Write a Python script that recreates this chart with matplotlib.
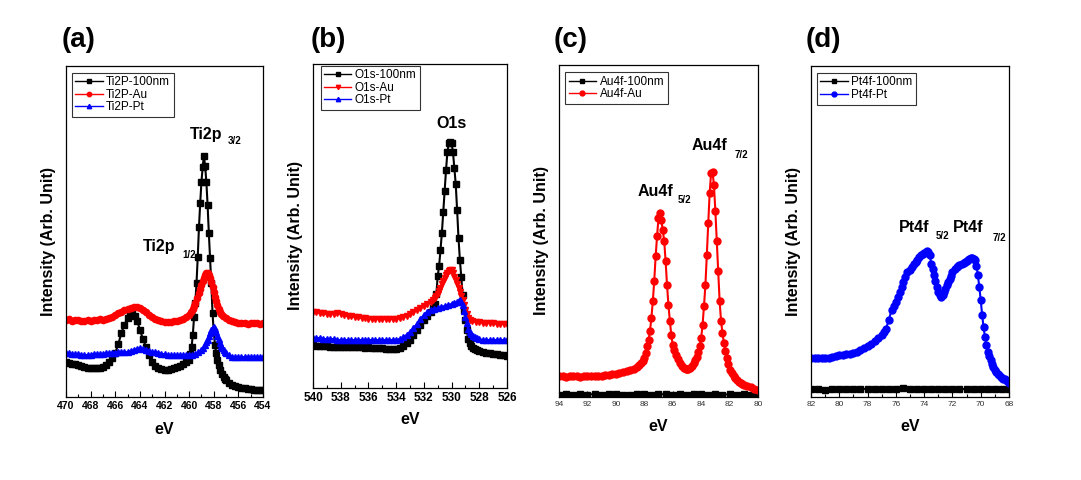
import matplotlib
matplotlib.use('Agg')
import matplotlib.pyplot as plt
from matplotlib.ticker import MultipleLocator

plt.rcParams['font.family'] = ['Liberation Sans', 'DejaVu Sans']

# (eV, intensity) pairs, intensity in arbitrary units

# (a) Ti2p
ti_100nm = [(470, 35), (469.75, 34), (469.5, 33), (469.25, 33), (469, 32), (468.75, 31), (468.5, 30),
            (468.25, 29), (468, 29), (467.75, 29), (467.5, 29), (467.25, 29), (467, 30), (466.75, 32),
            (466.5, 35), (466.25, 39), (466, 44), (465.75, 53), (465.5, 64), (465.25, 72), (465, 79),
            (464.8, 83), (464.6, 84), (464.4, 81), (464.2, 76), (464, 67), (463.75, 58), (463.5, 50),
            (463.25, 42), (463, 35), (462.75, 31), (462.5, 29), (462.25, 28), (462, 27), (461.75, 27),
            (461.5, 28), (461.25, 29), (461, 30), (460.75, 31), (460.5, 33), (460.25, 35), (460, 37),
            (459.9, 43), (459.8, 50), (459.7, 62), (459.6, 80), (459.5, 94), (459.4, 114), (459.3, 140),
            (459.2, 170), (459.1, 194), (459.0, 215), (458.9, 230), (458.8, 241), (458.7, 231),
            (458.6, 215), (458.5, 192), (458.4, 164), (458.3, 139), (458.2, 114), (458.1, 84),
            (458.0, 65), (457.9, 52), (457.8, 44), (457.7, 37), (457.6, 32), (457.5, 27), (457.35, 23),
            (457.2, 20), (457.1, 18), (457, 17), (456.75, 14), (456.5, 12), (456.25, 11), (456, 10),
            (455.75, 9.5), (455.5, 9), (455.25, 8.5), (455, 8), (454.75, 7.5), (454.5, 7), (454.25, 7),
            (454, 7)]
ti_au = [(470, 77), (469.75, 78), (469.5, 76), (469.25, 77), (469, 77), (468.75, 76), (468.5, 76),
         (468.25, 77), (468, 76), (467.75, 77), (467.5, 77), (467.25, 78), (467, 77), (466.75, 78),
         (466.5, 79), (466.25, 80), (466, 82), (465.75, 84), (465.5, 85), (465.25, 87), (465, 88),
         (464.75, 89), (464.5, 90), (464.25, 90), (464, 89), (463.75, 87), (463.5, 85), (463.25, 82),
         (463, 80), (462.75, 78), (462.5, 77), (462.25, 76), (462, 75), (461.75, 75), (461.5, 75),
         (461.25, 76), (461, 76), (460.75, 77), (460.5, 78), (460.25, 80), (460, 82), (459.85, 85),
         (459.7, 88), (459.6, 91), (459.5, 94), (459.35, 99), (459.2, 104), (459.1, 108), (459, 112),
         (458.9, 116), (458.8, 119), (458.7, 122), (458.6, 124), (458.5, 124), (458.4, 122),
         (458.3, 119), (458.2, 115), (458.1, 110), (458, 105), (457.9, 100), (457.8, 96), (457.7, 92),
         (457.6, 88), (457.5, 85), (457.4, 83), (457.25, 81), (457, 79), (456.75, 77), (456.5, 76),
         (456.25, 75), (456, 74), (455.75, 74), (455.5, 74), (455.25, 73), (455, 74), (454.75, 74),
         (454.5, 74), (454.25, 73), (454, 74)]
ti_pt = [(470, 44), (469.75, 44), (469.5, 43), (469.25, 43), (469, 43), (468.75, 42), (468.5, 42),
         (468.25, 42), (468, 42), (467.75, 43), (467.5, 43), (467.25, 43), (467, 43), (466.75, 44),
         (466.5, 44), (466.25, 44), (466, 44), (465.75, 45), (465.5, 45), (465.25, 45), (465, 45),
         (464.75, 46), (464.5, 47), (464.25, 48), (464, 49), (463.75, 48), (463.5, 47), (463.25, 46),
         (463, 45), (462.75, 45), (462.5, 44), (462.25, 43), (462, 43), (461.75, 42), (461.5, 42),
         (461.25, 42), (461, 42), (460.75, 42), (460.5, 42), (460.25, 42), (460, 42), (459.75, 42),
         (459.5, 43), (459.25, 45), (459, 47), (458.85, 49), (458.7, 52), (458.6, 55), (458.5, 57),
         (458.4, 61), (458.3, 64), (458.2, 67), (458.1, 69), (458.0, 70), (457.9, 68), (457.8, 65),
         (457.7, 61), (457.6, 58), (457.5, 54), (457.4, 51), (457.3, 49), (457.2, 47), (457.1, 45),
         (457, 44), (456.75, 42), (456.5, 40), (456.25, 40), (456, 40), (455.75, 40), (455.5, 40),
         (455.25, 40), (455, 40), (454.75, 40), (454.5, 40), (454.25, 40), (454, 40)]

# (b) O1s
o_100nm = [(540, 43), (539.75, 42), (539.5, 42), (539.25, 42), (539, 42), (538.75, 41), (538.5, 41),
           (538.25, 41), (538, 41), (537.75, 41), (537.5, 41), (537.25, 41), (537, 41), (536.75, 41),
           (536.5, 41), (536.25, 40), (536, 41), (535.75, 40), (535.5, 40), (535.25, 40), (535, 40),
           (534.75, 39), (534.5, 39), (534.25, 39), (534, 39), (533.75, 40), (533.5, 42), (533.25, 45),
           (533, 48), (532.75, 53), (532.5, 58), (532.25, 63), (532, 68), (531.75, 72), (531.5, 76),
           (531.35, 80), (531.2, 84), (531.1, 94), (531.0, 112), (530.9, 122), (530.8, 138),
           (530.7, 155), (530.6, 176), (530.5, 197), (530.4, 218), (530.3, 236), (530.2, 245),
           (530.1, 246), (530.0, 245), (529.9, 236), (529.8, 220), (529.7, 204), (529.6, 178),
           (529.5, 150), (529.4, 128), (529.3, 111), (529.2, 93), (529.1, 78), (529.0, 68), (528.9, 58),
           (528.8, 49), (528.7, 45), (528.6, 42), (528.45, 40), (528.3, 39), (528.15, 38), (528, 37),
           (527.75, 36), (527.5, 35), (527.25, 35), (527, 34), (526.75, 34), (526.5, 33), (526.25, 33),
           (526, 32)]
o_au = [(540, 76), (539.75, 76), (539.5, 75), (539.25, 75), (539, 74), (538.75, 74), (538.5, 74),
        (538.25, 75), (538, 74), (537.75, 73), (537.5, 72), (537.25, 72), (537, 71), (536.75, 71),
        (536.5, 70), (536.25, 70), (536, 69), (535.75, 69), (535.5, 69), (535.25, 69), (535, 69),
        (534.75, 69), (534.5, 69), (534.25, 69), (534, 69), (533.75, 70), (533.5, 71), (533.25, 72),
        (533, 74), (532.75, 76), (532.5, 78), (532.25, 80), (532, 82), (531.75, 84), (531.5, 86),
        (531.35, 88), (531.2, 90), (531.1, 92), (531, 94), (530.9, 97), (530.8, 100), (530.7, 104),
        (530.6, 107), (530.5, 110), (530.4, 113), (530.3, 115), (530.2, 117), (530.1, 118),
        (530.0, 118), (529.9, 115), (529.8, 111), (529.7, 108), (529.6, 104), (529.5, 100),
        (529.4, 96), (529.3, 92), (529.2, 88), (529.1, 83), (529.0, 78), (528.9, 74), (528.8, 70),
        (528.65, 68), (528.5, 67), (528.25, 66), (528, 66), (527.75, 65), (527.5, 65), (527.25, 65),
        (527, 65), (526.75, 64), (526.5, 64), (526.25, 64), (526, 64)]
o_pt = [(540, 50), (539.75, 50), (539.5, 50), (539.25, 49), (539, 49), (538.75, 49), (538.5, 49),
        (538.25, 48), (538, 48), (537.75, 48), (537.5, 48), (537.25, 48), (537, 48), (536.75, 48),
        (536.5, 48), (536.25, 48), (536, 48), (535.75, 48), (535.5, 48), (535.25, 48), (535, 48),
        (534.75, 48), (534.5, 48), (534.25, 48), (534, 48), (533.75, 49), (533.5, 51), (533.25, 53),
        (533, 56), (532.75, 60), (532.5, 64), (532.25, 69), (532, 73), (531.75, 76), (531.5, 78),
        (531.25, 79), (531, 80), (530.75, 81), (530.5, 82), (530.25, 83), (530, 84), (529.8, 85),
        (529.6, 86), (529.5, 87), (529.4, 88), (529.3, 86), (529.2, 83), (529.1, 77), (529.0, 71),
        (528.9, 65), (528.8, 59), (528.7, 56), (528.6, 54), (528.45, 52), (528.3, 51), (528.15, 50),
        (528, 49), (527.75, 48), (527.5, 48), (527.25, 48), (527, 48), (526.75, 48), (526.5, 48),
        (526.25, 48), (526, 48)]

# (c) Au4f
au_100nm = [(94, 2.5), (93.5, 2.8), (93, 2.4), (92.5, 2.6), (92, 2.5), (91.5, 2.9), (91, 2.4),
            (90.5, 2.6), (90, 2.7), (89.5, 2.5), (89, 2.4), (88.5, 2.8), (88, 2.6), (87.5, 2.5),
            (87, 2.9), (86.5, 2.6), (86, 2.4), (85.5, 2.7), (85, 2.5), (84.5, 2.6), (84, 2.8),
            (83.5, 2.4), (83, 2.7), (82.5, 2.5), (82, 2.6), (81.5, 2.4), (81, 2.7), (80.5, 2.5),
            (80, 2.6)]
au_au = [(94, 20.7), (93.75, 20.6), (93.5, 20.5), (93.25, 20.6), (93, 20.7), (92.75, 20.6),
         (92.5, 20.5), (92.25, 20.6), (92, 20.7), (91.75, 20.9), (91.5, 21), (91.25, 21.1), (91, 21.3),
         (90.75, 21.6), (90.5, 22), (90.25, 22.6), (90, 23.3), (89.75, 24), (89.5, 24.7),
         (89.25, 25.6), (89, 26.7), (88.75, 28.2), (88.5, 30), (88.35, 32), (88.2, 34), (88.1, 36),
         (88.0, 39), (87.9, 44), (87.8, 50.7), (87.7, 57), (87.6, 66), (87.5, 79), (87.4, 96),
         (87.3, 116), (87.2, 141), (87.1, 161), (87.0, 179), (86.9, 184), (86.8, 177), (86.7, 167),
         (86.6, 156), (86.5, 136), (86.4, 112), (86.3, 92), (86.2, 76), (86.1, 62), (86.0, 52),
         (85.9, 47), (85.8, 42), (85.65, 38), (85.5, 34), (85.35, 31), (85.2, 29), (85.1, 28.5),
         (85.0, 28), (84.9, 28.5), (84.8, 29), (84.65, 31), (84.5, 34), (84.4, 37), (84.3, 40),
         (84.2, 45), (84.1, 51), (84.0, 59), (83.9, 72), (83.8, 91), (83.7, 112), (83.6, 142),
         (83.5, 174), (83.4, 204), (83.3, 224), (83.2, 225), (83.1, 212), (83.0, 186), (82.9, 156),
         (82.8, 126), (82.7, 96), (82.6, 76), (82.5, 64), (82.4, 54), (82.3, 46), (82.2, 39),
         (82.1, 33), (82.0, 27), (81.85, 24), (81.7, 21), (81.6, 19), (81.5, 17), (81.35, 15.5),
         (81.2, 14), (81.1, 13), (81, 12.3), (80.75, 11), (80.5, 9.7), (80.25, 8.5), (80, 7.3)]

# (d) Pt4f
pt_100nm = [(82, 8.5), (81.5, 8), (81, 7.5), (80.5, 8.2), (80, 7.8), (79.5, 8), (79, 7.6),
            (78.5, 8.3), (78, 7.9), (77.5, 8), (77, 7.7), (76.5, 8.4), (76, 8), (75.5, 8.9), (75, 7.8),
            (74.5, 8.1), (74, 7.6), (73.5, 8), (73, 8.3), (72.5, 7.7), (72, 8), (71.5, 8.2), (71, 7.8),
            (70.5, 8.4), (70, 7.9), (69.5, 8), (69, 8.1), (68.5, 7.8), (68, 8)]
pt_pt = [(82, 39), (81.75, 39.5), (81.5, 39.5), (81.25, 39), (81, 39), (80.75, 39.5), (80.5, 40),
         (80.25, 41), (80, 41.7), (79.75, 42), (79.5, 42.7), (79.25, 43.3), (79, 44), (78.75, 45.5),
         (78.5, 47), (78.25, 49), (78, 51), (77.75, 53.5), (77.5, 56), (77.25, 59), (77, 62),
         (76.85, 65), (76.7, 68), (76.5, 77), (76.3, 87), (76.15, 91), (76.0, 95), (75.85, 100),
         (75.7, 105), (75.6, 110), (75.5, 115), (75.35, 120), (75.2, 125), (75.0, 127), (74.85, 130),
         (74.7, 133), (74.6, 135), (74.5, 137), (74.35, 140), (74.2, 142), (74.1, 143), (74.0, 144),
         (73.9, 145), (73.8, 146), (73.7, 145), (73.6, 142), (73.5, 133), (73.4, 128), (73.3, 122),
         (73.2, 116), (73.1, 110), (73.0, 105), (72.9, 102), (72.8, 100), (72.7, 102), (72.6, 105),
         (72.5, 108), (72.4, 112), (72.3, 115), (72.2, 118), (72.1, 121), (72.0, 125), (71.85, 128),
         (71.7, 130), (71.6, 131), (71.5, 132), (71.35, 133), (71.2, 134), (71.1, 135), (71.0, 136),
         (70.9, 137), (70.8, 138), (70.7, 139), (70.6, 139), (70.5, 138), (70.4, 137), (70.3, 131),
         (70.2, 122), (70.1, 110), (70.0, 97), (69.9, 82), (69.8, 70), (69.7, 60), (69.6, 52),
         (69.5, 45), (69.4, 41), (69.3, 37), (69.2, 33), (69.1, 30), (69.0, 27.5), (68.9, 25),
         (68.8, 23.5), (68.7, 22), (68.6, 20.5), (68.5, 19), (68.4, 18.5), (68.3, 18), (68.15, 16),
         (68.0, 14)]

W, H = 1081, 480
fig = plt.figure(figsize=(W / 100, H / 100), dpi=100)


def px_axes(l, t, r, b):
    return fig.add_axes([l / W, 1 - b / H, (r - l) / W, (b - t) / H])


panels = [
    dict(box=(66, 66, 263, 397), xlim=(470, 454), ylim=(0, 331), tag='(a)',
         series=[(ti_100nm, 'black', 's', 'Ti2P-100nm'),
                 (ti_au, 'red', 'o', 'Ti2P-Au'),
                 (ti_pt, 'blue', '^', 'Ti2P-Pt')],
         ms=4.5, tick_fs=7.5, tick_bold=True, leg=(0.03, 0.98)),
    dict(box=(313, 64, 507, 388), xlim=(540, 526), ylim=(0, 324), tag='(b)',
         series=[(o_100nm, 'black', 's', 'O1s-100nm'),
                 (o_au, 'red', 'v', 'O1s-Au'),
                 (o_pt, 'blue', '^', 'O1s-Pt')],
         ms=4.5, tick_fs=8.5, tick_bold=True, leg=(0.04, 0.995)),
    dict(box=(559, 65, 758, 397), xlim=(94, 80), ylim=(0, 332), tag='(c)',
         series=[(au_100nm, 'black', 's', 'Au4f-100nm'),
                 (au_au, 'red', 'o', 'Au4f-Au')],
         ms=5, tick_fs=6, tick_bold=False, leg=(0.032, 0.978)),
    dict(box=(811, 66, 1009, 397), xlim=(82, 68), ylim=(0, 331), tag='(d)',
         series=[(pt_100nm, 'black', 's', 'Pt4f-100nm'),
                 (pt_pt, 'blue', 'o', 'Pt4f-Pt')],
         ms=5, tick_fs=6, tick_bold=False, leg=(0.03, 0.979)),
]

axes = []
for p in panels:
    ax = px_axes(*p['box'])
    for pts, c, m, lab in p['series']:
        x, y = zip(*pts)
        ax.plot(x, y, color=c, marker=m, ms=p['ms'], lw=1.5, label=lab)
    ax.set_xlim(*p['xlim'])
    ax.set_ylim(*p['ylim'])
    ax.set_yticks([])
    ax.xaxis.set_major_locator(MultipleLocator(2))
    ax.xaxis.set_minor_locator(MultipleLocator(1))
    ax.tick_params(axis='x', which='major', direction='in', length=4, width=0.8,
                   labelsize=p['tick_fs'], pad=3)
    ax.tick_params(axis='x', which='minor', direction='in', length=2, width=0.8)
    for lbl in ax.get_xticklabels():
        lbl.set_fontweight('bold' if p['tick_bold'] else 'normal')
        if not p['tick_bold']:
            lbl.set_color('#333333')
    for s in ax.spines.values():
        s.set_linewidth(0.9)
    ax.set_xlabel('eV', fontsize=11.5, fontweight='bold')
    ax.set_ylabel('Intensity (Arb. Unit)', fontsize=11.5, fontweight='bold')
    ax.yaxis.set_label_coords(-0.05, 0.47)
    ax.xaxis.set_label_coords(0.5, -0.075 if p['tick_bold'] else -0.065)
    leg = ax.legend(loc='upper left', bbox_to_anchor=p['leg'], borderaxespad=0,
                    fontsize=8.5, frameon=True, fancybox=False, edgecolor='black',
                    handlelength=2.3, handletextpad=0.3, labelspacing=0.05,
                    borderpad=0.3, markerscale=0.7)
    leg.get_frame().set_linewidth(0.8)
    for h in leg.get_lines():
        h.set_linewidth(1)
    axes.append(ax)

# panel letters
for (x, y), p in zip([(62, 40), (311, 40), (554, 40), (806, 40)], panels):
    fig.text(x / W, 1 - y / H, p['tag'], fontsize=20, fontweight='bold', va='center', ha='left')

# peak labels
ax_a, ax_b, ax_c, ax_d = axes
pk = dict(fontsize=11.5, fontweight='bold', va='center', ha='left')
sub = dict(fontsize=7, fontweight='bold', va='center', ha='left')
ax_a.text(463.74, 150, 'Ti2p', **pk)
ax_a.text(460.58, 142, '1/2', **sub)
ax_a.text(459.93, 262, 'Ti2p', **pk)
ax_a.text(456.84, 256, '3/2', **sub)
ax_b.text(531.08, 264, 'O1s', **pk)
ax_c.text(88.45, 206, 'Au4f', **pk)
ax_c.text(85.62, 197, '5/2', **sub)
ax_c.text(84.64, 251, 'Au4f', **pk)
ax_c.text(81.67, 242, '7/2', **sub)
ax_d.text(75.8, 169, 'Pt4f', **pk)
ax_d.text(73.18, 161, '5/2', **sub)
ax_d.text(71.98, 169, 'Pt4f', **pk)
ax_d.text(69.15, 159, '7/2', **sub)

fig.savefig('out.png', dpi=100)
